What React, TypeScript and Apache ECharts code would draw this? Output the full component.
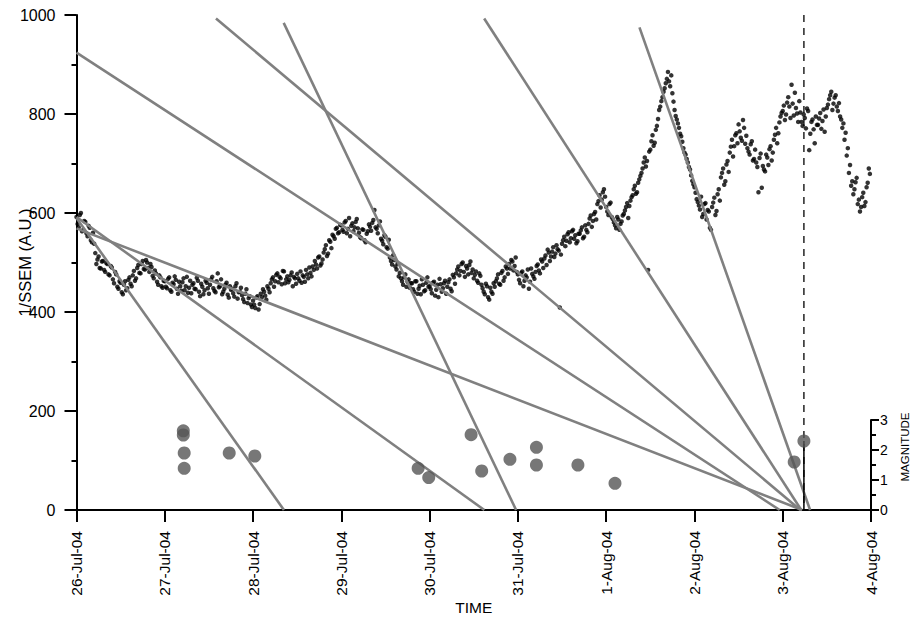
import React, { useEffect, useRef } from "react";
import * as echarts from "echarts";

// ---- Data (days counted from 26-Jul-04 00:00) ----
const DAY_TICK_LABELS = [
  "26-Jul-04", "27-Jul-04", "28-Jul-04", "29-Jul-04", "30-Jul-04",
  "31-Jul-04", "1-Aug-04", "2-Aug-04", "3-Aug-04", "4-Aug-04",
];
const Y_TICK_LABELS = ["0", "200", "400", "600", "800", "1000"];
const MAG_TICK_LABELS = ["0", "1", "2", "3"];

// 1/SSEM samples, one every 36 minutes (0.025 day), one array per day (first pass)
const SAMPLE_STEP_DAYS = 0.025;
const ssem26Jul = [592, 571, 600, 566, 582, 553, 570, 541, 538, 497, 512, 488, 503, 481, 497, 474, 490, 458, 476, 447, 459, 436, 462, 448, 470, 452, 483, 468, 495, 478, 503, 486, 500, 481, 491, 468, 478, 455, 470, 449];
const ssem27Jul = [462, 448, 470, 441, 456, 465, 437, 452, 460, 444, 471, 449, 438, 458, 446, 463, 432, 451, 444, 459, 437, 466, 448, 440, 478, 452, 436, 447, 459, 429, 445, 438, 452, 427, 441, 434, 420, 446, 428, 415];
const ssem28Jul = [423, 408, 432, 416, 430, 441, 425, 447, 458, 470, 462, 478, 471, 456, 482, 466, 460, 474, 452, 468, 477, 463, 459, 471, 485, 468, 479, 492, 503, 488, 512, 498, 520, 535, 518, 542, 556, 548, 570, 561];
const ssem29Jul = [575, 562, 584, 568, 553, 579, 571, 588, 560, 549, 566, 541, 563, 572, 580, 606, 568, 575, 548, 537, 552, 528, 510, 496, 505, 486, 472, 468, 455, 476, 461, 449, 458, 441, 462, 447, 436, 455, 444, 470];
const ssem30Jul = [452, 438, 461, 445, 430, 456, 448, 463, 451, 466, 442, 470, 478, 492, 483, 500, 471, 488, 495, 479, 468, 482, 459, 473, 448, 436, 452, 425, 441, 458, 462, 476, 455, 483, 470, 488, 497, 505, 484, 510];
const ssem31Jul = [476, 458, 482, 463, 470, 447, 488, 472, 481, 496, 478, 502, 508, 495, 520, 512, 531, 518, 527, 409, 538, 552, 544, 561, 549, 566, 555, 543, 558, 571, 552, 566, 578, 595, 584, 602, 618, 636, 627, 648];
const ssem1Aug = [612, 596, 621, 588, 575, 592, 566, 583, 598, 612, 590, 625, 636, 655, 642, 668, 681, 702, 694, 485, 728, 757, 742, 776, 808, 826, 845, 862, 885, 856, 842, 808, 789, 772, 755, 731, 718, 702, 688, 665];
const ssem2Aug = [652, 628, 615, 633, 598, 620, 606, 570, 612, 631, 604, 648, 672, 690, 664, 705, 722, 748, 735, 761, 779, 752, 788, 740, 731, 718, 745, 709, 702, 642, 720, 695, 684, 712, 729, 706, 748, 772, 761, 795];
const ssem3Aug = [806, 788, 823, 815, 859, 797, 812, 784, 803, 776, 792, 811, 727, 784, 769, 795, 778, 802, 786, 764, 812, 830, 845, 821, 838, 806, 795, 772, 748, 716, 681, 655, 638, 662, 618, 603, 632, 614, 652, 690];

// second pass, taken 18 minutes (half a step) after each first-pass sample
const HALF_STEP_OFFSET_DAYS = 0.0125;
const ssem26JulB = [578, 596, 563, 584, 559, 574, 545, 560, 519, 506, 489, 502, 485, 499, 476, 493, 466, 481, 451, 462, 440, 455, 444, 465, 457, 474, 463, 489, 479, 497, 487, 505, 489, 497, 473, 484, 461, 474, 452, 463];
const ssem27JulB = [451, 467, 444, 459, 472, 447, 461, 443, 468, 452, 439, 463, 455, 447, 469, 441, 457, 436, 463, 448, 455, 471, 443, 462, 450, 466, 441, 455, 435, 452, 447, 431, 458, 440, 449, 426, 437, 418, 432, 410];
const ssem28JulB = [415, 429, 405, 437, 446, 433, 452, 440, 466, 451, 475, 460, 468, 483, 458, 472, 465, 480, 471, 457, 468, 482, 474, 461, 476, 490, 472, 485, 496, 510, 494, 506, 527, 513, 545, 529, 553, 568, 559, 576];
const ssem29JulB = [566, 581, 559, 590, 574, 563, 582, 569, 551, 567, 545, 558, 577, 564, 586, 571, 559, 583, 544, 555, 531, 546, 503, 515, 492, 498, 479, 462, 470, 451, 466, 458, 446, 462, 437, 453, 466, 442, 459, 451];
const ssem30JulB = [446, 459, 433, 455, 467, 441, 458, 437, 460, 447, 475, 457, 486, 474, 497, 481, 493, 476, 502, 486, 475, 463, 478, 455, 441, 457, 430, 449, 437, 451, 468, 457, 479, 463, 492, 477, 488, 502, 493, 481];
const ssem31JulB = [465, 479, 452, 474, 486, 461, 477, 467, 493, 484, 506, 489, 514, 526, 503, 522, 511, 535, 524, 516, 545, 533, 557, 541, 563, 548, 539, 558, 565, 549, 575, 561, 589, 572, 598, 587, 624, 611, 642, 633];
const ssem1AugB = [603, 618, 592, 581, 569, 587, 578, 595, 605, 620, 614, 632, 648, 639, 661, 675, 690, 712, 705, 724, 745, 736, 768, 790, 815, 834, 852, 871, 866, 878, 825, 796, 781, 760, 744, 722, 709, 693, 676, 658];
const ssem2AugB = [641, 622, 607, 592, 618, 587, 603, 566, 621, 596, 638, 625, 681, 657, 698, 683, 734, 714, 757, 741, 765, 746, 772, 756, 724, 739, 706, 728, 693, 711, 651, 688, 718, 697, 735, 722, 758, 741, 783, 802];
const ssem3AugB = [817, 799, 834, 792, 821, 843, 801, 826, 784, 799, 771, 806, 760, 789, 741, 778, 791, 770, 809, 795, 819, 838, 808, 833, 815, 822, 789, 781, 762, 731, 697, 664, 648, 671, 627, 612, 641, 622, 661, 679];

const SSEM_BY_DAY = [ssem26Jul, ssem27Jul, ssem28Jul, ssem29Jul, ssem30Jul, ssem31Jul, ssem1Aug, ssem2Aug, ssem3Aug];
const SSEM_BY_DAY_B = [ssem26JulB, ssem27JulB, ssem28JulB, ssem29JulB, ssem30JulB, ssem31JulB, ssem1AugB, ssem2AugB, ssem3AugB];

// Grey trend lines (start and end points)
const trendStartDay = [0, 1.58, 2.347, 4.618, 6.377, 0, 0, 0];
const trendStartValue = [924, 993, 984, 993, 975, 590, 592, 569];
const trendEndDay = [7.966, 8.2, 4.98, 8.21, 8.31, 2.35, 4.62, 8.22];
const trendEndValue = [0, 0, 0, 0, 0, 0, 0, 0];

// Earthquakes
const quakeDay = [1.21, 1.21, 1.22, 1.22, 1.73, 2.02, 3.87, 3.99, 4.47, 4.59, 4.91, 5.21, 5.21, 5.68, 6.1, 8.13, 8.24];
const quakeMagnitude = [2.64, 2.5, 1.9, 1.39, 1.9, 1.8, 1.39, 1.08, 2.51, 1.3, 1.69, 2.09, 1.5, 1.5, 0.89, 1.6, 2.3];

const ALERT_DAY = 8.24;
const ALERT_MAGNITUDE = 2.3;

const FONT = "'Liberation Sans', Arial, sans-serif";

export default function App() {
  const ref = useRef<HTMLDivElement>(null);

  useEffect(() => {
    if (!ref.current) return;
    const chart = echarts.init(ref.current, null, { renderer: "svg" });

    const ssemPoints: number[][] = [];
    SSEM_BY_DAY.forEach((arr, dayIdx) => {
      arr.forEach((v, i) => ssemPoints.push([dayIdx + i * SAMPLE_STEP_DAYS, v]));
    });
    SSEM_BY_DAY_B.forEach((arr, dayIdx) => {
      arr.forEach((v, i) =>
        ssemPoints.push([dayIdx + i * SAMPLE_STEP_DAYS + HALF_STEP_OFFSET_DAYS, v])
      );
    });

    const trendSeries = trendStartDay.map((sd, i) => ({
      type: "line",
      xAxisIndex: 0,
      yAxisIndex: 0,
      data: [
        [sd, trendStartValue[i]],
        [trendEndDay[i], trendEndValue[i]],
      ],
      symbol: "none",
      silent: true,
      z: 3,
      lineStyle: { color: "#808080", width: 2.6 },
    }));

    const axisLineStyle = { color: "#000", width: 2 };

    const option: any = {
      animation: false,
      backgroundColor: "#ffffff",
      textStyle: { fontFamily: FONT },
      grid: [
        { left: 76.5, top: 15, width: 794.5, height: 495, containLabel: false, outerBoundsMode: "none" },
        { left: 76.5, top: 420, width: 794.5, height: 90, containLabel: false, outerBoundsMode: "none" },
      ],
      graphic: [
        {
          type: "text",
          x: 905,
          y: 447,
          rotation: Math.PI / 2,
          silent: true,
          style: {
            text: "MAGNITUDE",
            fontSize: 11.5,
            fontFamily: FONT,
            fill: "#000",
            align: "center",
            verticalAlign: "middle",
          },
        },
      ],
      xAxis: [
        {
          gridIndex: 0,
          type: "value",
          min: 0,
          max: 9,
          interval: 1,
          name: "TIME",
          nameLocation: "middle",
          nameGap: 89,
          nameMoveOverlap: false,
          nameTextStyle: { fontSize: 15.5, color: "#000", fontFamily: FONT },
          axisLine: { show: true, onZero: false, lineStyle: axisLineStyle },
          axisTick: { show: true, length: 12, lineStyle: axisLineStyle },
          axisLabel: {
            rotate: 90,
            margin: 21,
            fontSize: 15.5,
            color: "#000",
            fontFamily: FONT,
            formatter: (v: number) => DAY_TICK_LABELS[Math.round(v)] ?? "",
          },
          splitLine: { show: false },
        },
        { gridIndex: 1, type: "value", min: 0, max: 9, show: false },
      ],
      yAxis: [
        {
          gridIndex: 0,
          type: "value",
          min: 0,
          max: 1000,
          interval: 200,
          name: "1/SSEM (A.U.)",
          nameLocation: "middle",
          nameRotate: 90,
          nameGap: 43,
          nameMoveOverlap: false,
          nameTextStyle: { fontSize: 16.5, color: "#000", fontFamily: FONT },
          axisLine: { show: true, onZero: false, lineStyle: axisLineStyle },
          axisTick: { show: true, length: 12, lineStyle: axisLineStyle },
          minorTick: { show: true, splitNumber: 2, length: 5, lineStyle: axisLineStyle },
          axisLabel: {
            fontSize: 16,
            color: "#000",
            margin: 21,
            fontFamily: FONT,
            formatter: (v: number) => Y_TICK_LABELS[Math.round(v / 200)] ?? "",
          },
          splitLine: { show: false },
        },
        {
          gridIndex: 1,
          type: "value",
          position: "right",
          min: 0,
          max: 3,
          interval: 1,
          axisLine: { show: true, onZero: false, lineStyle: axisLineStyle },
          axisTick: { show: true, length: 8, lineStyle: axisLineStyle },
          minorTick: { show: true, splitNumber: 2, length: 5, lineStyle: axisLineStyle },
          axisLabel: {
            fontSize: 14,
            color: "#000",
            margin: 9,
            fontFamily: FONT,
            formatter: (v: number) => MAG_TICK_LABELS[Math.round(v)] ?? "",
          },
          splitLine: { show: false },
        },
      ],
      series: [
        {
          type: "scatter",
          xAxisIndex: 0,
          yAxisIndex: 0,
          data: ssemPoints,
          symbolSize: 4.5,
          itemStyle: { color: "#000" },
          silent: true,
          z: 2,
        },
        ...trendSeries,
        {
          type: "line",
          xAxisIndex: 0,
          yAxisIndex: 0,
          data: [
            [ALERT_DAY, 1000],
            [ALERT_DAY, 0],
          ],
          symbol: "none",
          silent: true,
          z: 4,
          lineStyle: { color: "#000", width: 1.3, type: [7, 6] },
        },
        {
          type: "line",
          xAxisIndex: 1,
          yAxisIndex: 1,
          data: [
            [ALERT_DAY, 0],
            [ALERT_DAY, ALERT_MAGNITUDE],
          ],
          symbol: "none",
          silent: true,
          z: 5,
          lineStyle: { color: "#000", width: 1.5 },
        },
        {
          type: "scatter",
          xAxisIndex: 1,
          yAxisIndex: 1,
          data: quakeDay.map((d, i) => [d, quakeMagnitude[i]]),
          symbolSize: 13,
          itemStyle: { color: "#555555" },
          silent: true,
          z: 6,
        },
      ],
    };

    chart.setOption(option);
    return () => chart.dispose();
  }, []);

  return (
    <div
      ref={ref}
      style={{ position: "fixed", left: 0, top: 0, width: 911, height: 618, background: "#fff" }}
    />
  );
}
